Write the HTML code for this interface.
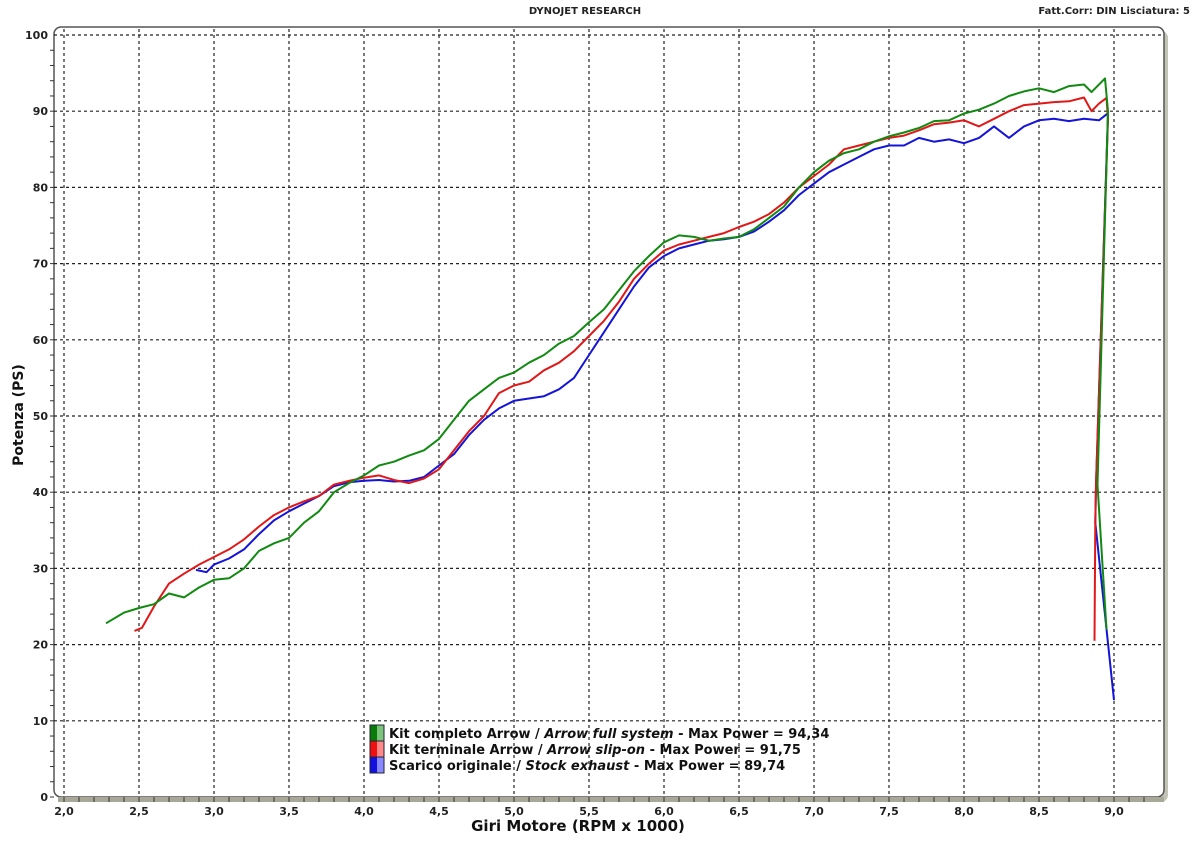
<!DOCTYPE html>
<html><head><meta charset="utf-8"><style>
body{margin:0;background:#fff;width:1200px;height:838px;overflow:hidden}
svg text{font-family:"DejaVu Sans","Liberation Sans",sans-serif}
</style></head><body>
<svg id="chart" width="1200" height="838" xmlns="http://www.w3.org/2000/svg">
<text x="585" y="14" font-size="10" font-weight="bold" text-anchor="middle" fill="#222">DYNOJET RESEARCH</text>
<text x="1190" y="14" font-size="10" font-weight="bold" text-anchor="end" fill="#222">Fatt.Corr: DIN  Lisciatura: 5</text>
<rect x="58" y="31" width="1110" height="771" rx="7" fill="#c4c4b6"/>
<rect x="54" y="27" width="1110" height="770" rx="7" fill="#fff" stroke="#555" stroke-width="1.5"/>
<g id="grid"></g><g id="axes"></g><g id="series"></g>
<text x="578" y="831" font-size="15" font-weight="bold" text-anchor="middle" fill="#111">Giri Motore (RPM x 1000)</text>
<text transform="translate(23,415) rotate(-90)" font-size="14" font-weight="bold" text-anchor="middle" fill="#111">Potenza (PS)</text>
<g font-size="13" font-weight="bold" fill="#111">
<g><rect x="370" y="725" width="7" height="16" fill="#0a7a0a"/><rect x="377" y="725" width="7" height="16" fill="#7cc47c"/><rect x="370" y="725" width="14" height="16" fill="none" stroke="#223"/>
<text x="389" y="738">Kit completo Arrow / <tspan font-style="italic">Arrow full system</tspan> - Max Power = 94,34</text></g>
<g><rect x="370" y="741" width="7" height="16" fill="#f01010"/><rect x="377" y="741" width="7" height="16" fill="#f88"/><rect x="370" y="741" width="14" height="16" fill="none" stroke="#223"/>
<text x="389" y="754">Kit terminale Arrow / <tspan font-style="italic">Arrow slip-on</tspan> - Max Power = 91,75</text></g>
<g><rect x="370" y="757" width="7" height="16" fill="#1010e0"/><rect x="377" y="757" width="7" height="16" fill="#88f"/><rect x="370" y="757" width="14" height="16" fill="none" stroke="#223"/>
<text x="389" y="770">Scarico originale / <tspan font-style="italic">Stock exhaust</tspan> - Max Power = 89,74</text></g>
</g>
</svg>
<script>
const xTicks=[2.0,2.5,3.0,3.5,4.0,4.5,5.0,5.5,6.0,6.5,7.0,7.5,8.0,8.5,9.0];
const yTicks=[0,10,20,30,40,50,60,70,80,90,100];
const greenX=[2.28,2.4,2.5,2.6,2.7,2.8,2.9,3.0,3.1,3.2,3.3,3.4,3.5,3.6,3.7,3.8,3.9,4.0,4.1,4.2,4.3,4.4,4.5,4.6,4.7,4.8,4.9,5.0,5.1,5.2,5.3,5.4,5.5,5.6,5.7,5.8,5.9,6.0,6.1,6.2,6.3,6.4,6.5,6.6,6.7,6.8,6.9,7.0,7.1,7.2,7.3,7.4,7.5,7.6,7.7,7.8,7.9,8.0,8.1,8.2,8.3,8.4,8.5,8.6,8.7,8.8,8.85,8.94,8.96,8.89,8.95];
const greenY=[22.8,24.2,24.8,25.3,26.7,26.2,27.5,28.5,28.7,30,32.3,33.3,34,36,37.5,40,41.2,42.2,43.5,44,44.8,45.5,47,49.5,52,53.5,55,55.7,57,58,59.5,60.5,62.3,64,66.5,69,71,72.8,73.7,73.5,73,73.3,73.5,74.5,76,77.5,80,82,83.5,84.5,85,86,86.7,87.2,87.8,88.7,88.8,89.7,90.2,91,92,92.6,93,92.5,93.3,93.5,92.5,94.3,90,41,22];
const redX=[2.47,2.52,2.6,2.7,2.8,2.9,3.0,3.1,3.2,3.3,3.4,3.5,3.6,3.7,3.8,3.9,4.0,4.1,4.2,4.3,4.4,4.5,4.6,4.7,4.8,4.9,5.0,5.1,5.2,5.3,5.4,5.5,5.6,5.7,5.8,5.9,6.0,6.1,6.2,6.3,6.4,6.5,6.6,6.7,6.8,6.9,7.0,7.1,7.2,7.3,7.4,7.5,7.6,7.7,7.8,7.9,8.0,8.1,8.2,8.3,8.4,8.5,8.6,8.7,8.8,8.85,8.9,8.95,8.96,8.88,8.875,8.87];
const redY=[21.8,22.2,25,28,29.3,30.5,31.5,32.5,33.8,35.5,37,38,38.8,39.5,41,41.5,41.9,42.2,41.6,41.2,41.8,43,45.5,48,50,53,54,54.5,56,57,58.5,60.5,62.5,65,68,70,71.7,72.5,73,73.5,74,74.8,75.5,76.5,78,80,81.5,83,85,85.5,86,86.5,86.8,87.5,88.3,88.5,88.8,88,89,90,90.8,91,91.2,91.3,91.8,90,91,91.75,89,41,36,20.5];
const blueX=[2.88,2.95,3.0,3.1,3.2,3.3,3.4,3.5,3.6,3.7,3.8,3.9,4.0,4.1,4.2,4.3,4.4,4.5,4.6,4.7,4.8,4.9,5.0,5.1,5.2,5.3,5.4,5.5,5.6,5.7,5.8,5.9,6.0,6.1,6.2,6.3,6.4,6.5,6.6,6.7,6.8,6.9,7.0,7.1,7.2,7.3,7.4,7.5,7.6,7.7,7.8,7.9,8.0,8.1,8.2,8.3,8.4,8.5,8.6,8.7,8.8,8.9,8.96,8.88,8.875,9.0];
const blueY=[29.8,29.5,30.5,31.3,32.5,34.5,36.3,37.5,38.5,39.5,40.8,41.3,41.5,41.6,41.4,41.5,42,43.5,45,47.5,49.5,51,52,52.3,52.6,53.5,55,58,61,64,67,69.5,71,72,72.5,73,73.2,73.5,74.2,75.5,77,79,80.5,82,83,84,85,85.5,85.5,86.5,86,86.3,85.8,86.5,88,86.5,88,88.8,89,88.7,89,88.8,89.74,41,36,12.7];
const NS='http://www.w3.org/2000/svg';
const sx=v=>64+(v-2)*150, sy=v=>797-v*7.62;
function mk(tag,attrs,parent){const e=document.createElementNS(NS,tag);for(const k in attrs)e.setAttribute(k,attrs[k]);parent.appendChild(e);return e;}
const grid=document.getElementById('grid'),axes=document.getElementById('axes'),series=document.getElementById('series');
xTicks.forEach(t=>{
  const l=mk('line',{x1:sx(t),x2:sx(t),y1:29,y2:797,stroke:'#222','stroke-width':1.2,'stroke-dasharray':'3,3'},grid);
  
  
  const tx=mk('text',{x:sx(t),y:815,'font-size':11,'font-weight':'bold','text-anchor':'middle',fill:'#222'},axes);
  tx.textContent=t.toFixed(1).replace('.',',');
  
  
});
yTicks.forEach(t=>{
  if(t>0){const l=mk('line',{x1:54,x2:1164,y1:sy(t),y2:sy(t),stroke:'#222','stroke-width':1.2,'stroke-dasharray':'3,3'},grid);
  
  }
  const tx=mk('text',{x:48,y:sy(t)+4,'font-size':11,'font-weight':'bold','text-anchor':'end',fill:'#222'},axes);
  tx.textContent=t;
  
  
});
for(let v=0;v<100;v+=2){mk('line',{x1:50,x2:54,y1:sy(v),y2:sy(v),stroke:'#333'},axes);}
const bar=mk('rect',{x:58,y:797,width:1106,height:5,fill:'#a8a898'},axes);


for(let i=0;i<=74;i++){const v=2+i*0.1;if(sx(v)>1158)break;mk('line',{x1:sx(v),x2:sx(v),y1:797,y2:802,stroke:'#333'},axes);}
function draw(xs,ys,col,name){
  const d=xs.map((x,i)=>(i?'L':'M')+sx(x).toFixed(1)+','+sy(ys[i]).toFixed(1)).join(' ');
  const p=mk('path',{d:d,fill:'none',stroke:col,'stroke-width':2,'stroke-linejoin':'round'},series);
  
  
}
draw(blueX,blueY,'#1414d8','stock-exhaust-line');
draw(redX,redY,'#e01818','slip-on-line');
draw(greenX,greenY,'#118a11','full-system-line');
</script>
</body></html>
